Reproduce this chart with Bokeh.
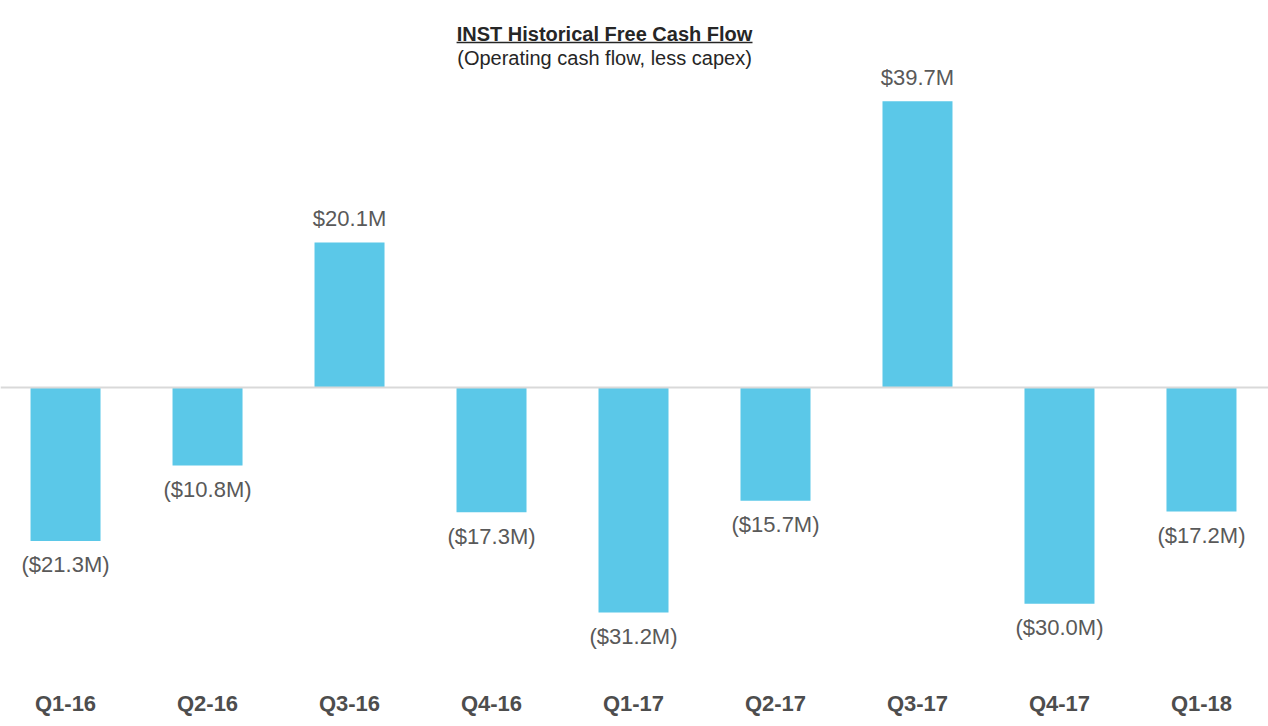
from bokeh.plotting import figure
from bokeh.models import ColumnDataSource, Range1d, FixedTicker, Span, Label, BoxAnnotation
from bokeh.core.properties import value
from bokeh.embed import file_html
from bokeh.resources import INLINE

quarters = ["Q1-16", "Q2-16", "Q3-16", "Q4-16", "Q1-17", "Q2-17", "Q3-17", "Q4-17", "Q1-18"]
fcf = [-21.3, -10.8, 20.1, -17.3, -31.2, -15.7, 39.7, -30.0, -17.2]

title_text = "INST Historical Free Cash Flow"
subtitle_text = "(Operating cash flow, less capex)"

BAR = "#5BC8E8"
FONT = "Liberation Sans"

xs = list(range(len(quarters)))
labels = [("$%.1fM" % v) if v >= 0 else ("($%.1fM)" % abs(v)) for v in fcf]
pad = 3.3
label_y = [v + pad if v >= 0 else v - pad for v in fcf]

src = ColumnDataSource(dict(x=xs, top=fcf, label=labels, ly=label_y))

p = figure(width=1268, height=726, output_backend="svg", toolbar_location=None,
           x_range=Range1d(-0.458, 8.472), y_range=Range1d(-40.36, 53.68),
           min_border_left=0, min_border_right=0, min_border_top=0, min_border_bottom=48)
p.outline_line_color = None
p.background_fill_color = "white"
p.border_fill_color = "white"
p.grid.visible = False
p.yaxis.visible = False

p.vbar(x="x", top="top", bottom=0, width=0.493, source=src, fill_color=BAR, line_color=None)
p.add_layout(Span(location=0, dimension="width", line_color="#D9D9D9", line_width=2))

p.text(x="x", y="ly", text="label", source=src, text_align="center", text_baseline="middle",
       text_font=value(FONT), text_font_size="22px", text_color="#595959")

ax = p.xaxis[0]
ax.ticker = FixedTicker(ticks=xs)
ax.major_label_overrides = {i: q for i, q in enumerate(quarters)}
ax.axis_line_color = None
ax.major_tick_line_color = None
ax.minor_tick_line_color = None
ax.major_label_standoff = 6
ax.major_label_text_font = FONT
ax.major_label_text_font_size = "22px"
ax.major_label_text_font_style = "bold"
ax.major_label_text_color = "#4D4D4D"

p.add_layout(Label(x=3.796, y=49.1, text=title_text, text_align="center", text_baseline="middle",
                   text_font=FONT, text_font_size="20px", text_font_style="bold", text_color="#262626"))
p.add_layout(BoxAnnotation(left=2.754, right=4.838, bottom=47.75, top=47.97,
                           fill_color="#262626", fill_alpha=1.0, line_color=None))
p.add_layout(Label(x=3.796, y=45.77, text=subtitle_text, text_align="center", text_baseline="middle",
                   text_font=FONT, text_font_size="20px", text_color="#262626"))

open("out.html", "w").write(file_html(p, INLINE))
